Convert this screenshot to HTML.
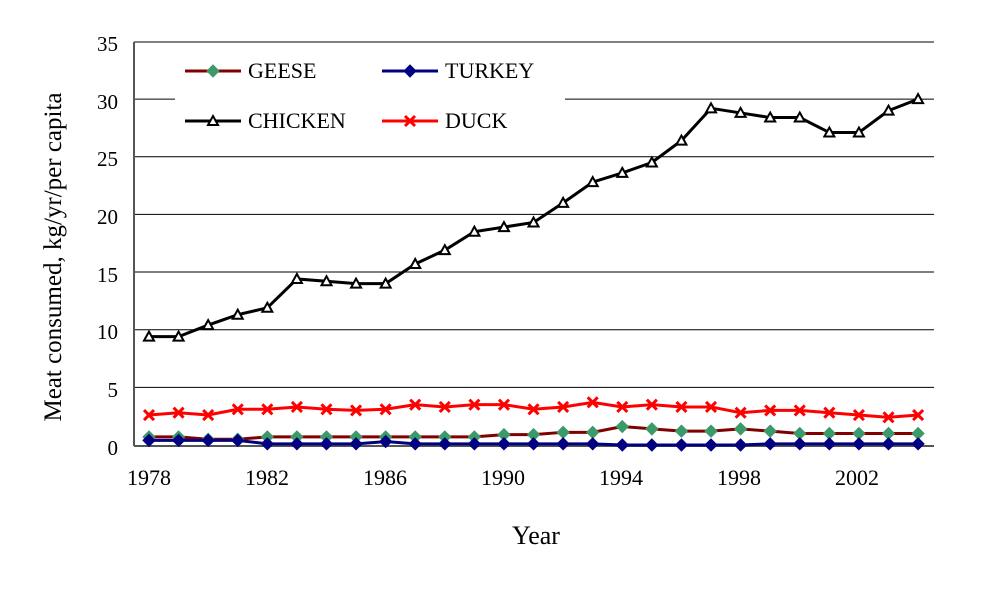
<!DOCTYPE html>
<html><head><meta charset="utf-8"><style>
body{margin:0;background:#fff;}
svg{display:block;font-family:"Liberation Serif",serif;}
</style></head><body>
<svg id="s" width="1003" height="589" viewBox="0 0 1003 589">
<rect width="1003" height="589" fill="#fff"/>
<g id="grid" stroke="#000" stroke-width="1"></g>
<line x1="134" y1="42" x2="934" y2="42" stroke="#808080" stroke-width="2"/>
<line x1="134" y1="42" x2="134" y2="446" stroke="#555" stroke-width="2"/>
<line x1="134" y1="446" x2="934" y2="446" stroke="#555" stroke-width="2"/>
<rect x="175" y="55" width="390" height="90" fill="#fff"/>
<g font-size="21" fill="#000">
<text x="118" y="51" text-anchor="end">35</text>
<text x="118" y="109" text-anchor="end">30</text>
<text x="118" y="166" text-anchor="end">25</text>
<text x="118" y="224" text-anchor="end">20</text>
<text x="118" y="282" text-anchor="end">15</text>
<text x="118" y="339" text-anchor="end">10</text>
<text x="118" y="397" text-anchor="end">5</text>
<text x="118" y="455" text-anchor="end">0</text>
</g>
<g font-size="22" fill="#000">
<text x="149" y="485" text-anchor="middle">1978</text>
<text x="267" y="485" text-anchor="middle">1982</text>
<text x="385" y="485" text-anchor="middle">1986</text>
<text x="503" y="485" text-anchor="middle">1990</text>
<text x="621" y="485" text-anchor="middle">1994</text>
<text x="739" y="485" text-anchor="middle">1998</text>
<text x="857" y="485" text-anchor="middle">2002</text>
</g>
<text x="536" y="544" font-size="26" text-anchor="middle">Year</text>
<text transform="translate(61,257) rotate(-90)" font-size="25" text-anchor="middle">Meat consumed, kg/yr/per capita</text>
<g id="series"></g>
<g font-size="22" fill="#000">
<text x="248" y="78">GEESE</text>
<text x="445" y="78">TURKEY</text>
<text x="248" y="128">CHICKEN</text>
<text x="445" y="128">DUCK</text>
</g>
</svg>
<script>
var ns="http://www.w3.org/2000/svg";
function el(p,t,a){var e=document.createElementNS(ns,t);for(var k in a)e.setAttribute(k,a[k]);p.appendChild(e);return e;}
var g=document.getElementById('grid');
for(var v=5;v<=30;v+=5){var y=445-v*11.53;el(g,'line',{x1:134,x2:934,y1:y,y2:y});}
var s=document.getElementById('series');
function X(i){return 149+i*29.58;}function Y(v){return 445-v*11.53;}
var geese=[0.7,0.7,0.5,0.5,0.7,0.7,0.7,0.7,0.7,0.7,0.7,0.7,0.9,0.9,1.1,1.1,1.6,1.4,1.2,1.2,1.4,1.2,1.0,1.0,1.0,1.0,1.0];
var turkey=[0.4,0.4,0.4,0.4,0.1,0.1,0.1,0.1,0.3,0.1,0.1,0.1,0.1,0.1,0.1,0.1,0,0,0,0,0,0.1,0.1,0.1,0.1,0.1,0.1];
var chicken=[9.4,9.4,10.4,11.3,11.9,14.4,14.2,14.0,14.0,15.7,16.9,18.5,18.9,19.3,21.0,22.8,23.6,24.5,26.4,29.2,28.8,28.4,28.4,27.1,27.1,29.0,30.0];
var duck=[2.6,2.8,2.6,3.1,3.1,3.3,3.1,3.0,3.1,3.5,3.3,3.5,3.5,3.1,3.3,3.7,3.3,3.5,3.3,3.3,2.8,3.0,3.0,2.8,2.6,2.4,2.6];
function dia(x,y,r,c){el(s,'path',{d:'M'+x+' '+(y-r)+'L'+(x+r)+' '+y+'L'+x+' '+(y+r)+'L'+(x-r)+' '+y+'Z',fill:c,stroke:c});}
function mk(kind,x,y){
 if(kind=='dg')dia(x,y,6,'#3c9a6a');
 if(kind=='db')dia(x,y,6,'#000080');
 if(kind=='tr')el(s,'path',{d:'M'+x+' '+(y-5)+'L'+(x+5)+' '+(y+4)+'L'+(x-5)+' '+(y+4)+'Z',fill:'#fff',stroke:'#000','stroke-width':2});
 if(kind=='x')el(s,'path',{d:'M'+(x-5)+' '+(y-5)+'L'+(x+5)+' '+(y+5)+'M'+(x+5)+' '+(y-5)+'L'+(x-5)+' '+(y+5),stroke:'#f00','stroke-width':3});
}
function draw(d,c,k){var p=d.map(function(v,i){return X(i)+','+Y(v)}).join(' ');
 el(s,'polyline',{points:p,fill:'none',stroke:c,'stroke-width':3});
 d.forEach(function(v,i){mk(k,X(i),Y(v));});}
draw(duck,'#f00','x');draw(geese,'#800000','dg');draw(turkey,'#000080','db');draw(chicken,'#000','tr');
function leg(x,y,c,k){el(s,'line',{x1:x,x2:x+56,y1:y,y2:y,stroke:c,'stroke-width':3});mk(k,x+28,y);}
leg(185,71,'#800000','dg');leg(382,71,'#000080','db');leg(185,121,'#000','tr');leg(382,121,'#f00','x');
</script>
</body></html>
